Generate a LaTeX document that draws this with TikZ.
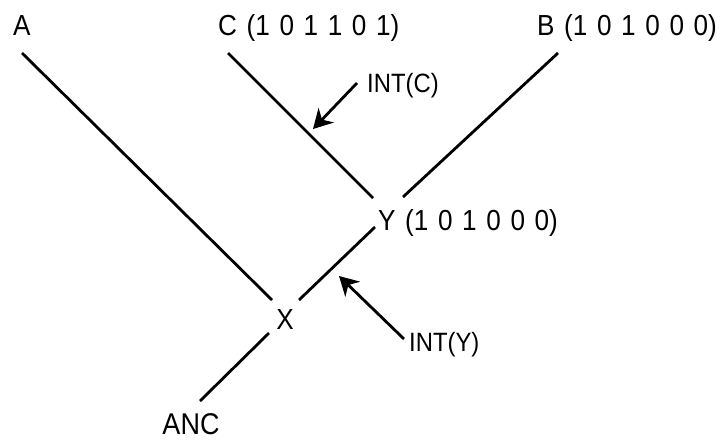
\documentclass[tikz,border=0pt]{standalone}
\usepackage{fontspec}
\setmainfont{Liberation Sans}[FakeStretch=0.9,WordSpace=1.33]
\usetikzlibrary{arrows.meta}
\begin{document}
\begin{tikzpicture}[x=1pt,y=-1pt,
  edge/.style={line width=2.8pt},
  pointer/.style={line width=2.8pt,-{Stealth[length=19pt,width=21pt,inset=6pt]}},
  lbl/.style={font=\fontsize{29}{32}\selectfont,inner sep=0pt},
  small/.style={font=\fontsize{26.5}{29}\selectfont,inner sep=0pt}]
\useasboundingbox (0,0) rectangle (720,440);
% labels
\node[lbl,anchor=base west] (A) at (13,35) {A};
\node[lbl,anchor=base west] (C) at (218,35) {C (1 0 1 1 0 1)};
\node[lbl,anchor=base west] (B) at (537,35) {B (1 0 1 0 0 0)};
\node[lbl,anchor=base west] (Y) at (378,230) {Y (1 0 1 0 0 0)};
\node[lbl,anchor=base] (X) at (285,329) {X};
\node[lbl,anchor=base,font=\fontsize{30}{33}\selectfont] (ANC) at (191,434) {ANC};
\node[small,anchor=base west] (intc) at (367,92) {INT(C)};
\node[small,anchor=base west] (inty) at (409,351) {INT(Y)};
% line end points
\coordinate (a1) at (22,53);
\coordinate (a2) at (272,300);
\coordinate (c1) at (228,53);
\coordinate (c2) at (373,198);
\coordinate (b1) at (558,53);
\coordinate (b2) at (403,197);
\coordinate (y1) at (375,227);
\coordinate (y2) at (299,300);
\coordinate (x1) at (269,333);
\coordinate (x2) at (200,401);
\coordinate (pc1) at (357,83);
\coordinate (pc2) at (313,129);
\coordinate (py1) at (404,339);
\coordinate (py2) at (339,276);
% edges
\draw[edge] (a1) -- (a2);
\draw[edge] (c1) -- (c2);
\draw[edge] (b1) -- (b2);
\draw[edge] (y1) -- (y2);
\draw[edge] (x1) -- (x2);
\draw[pointer] (pc1) -- (pc2);
\draw[pointer] (py1) -- (py2);
\end{tikzpicture}
\end{document}
